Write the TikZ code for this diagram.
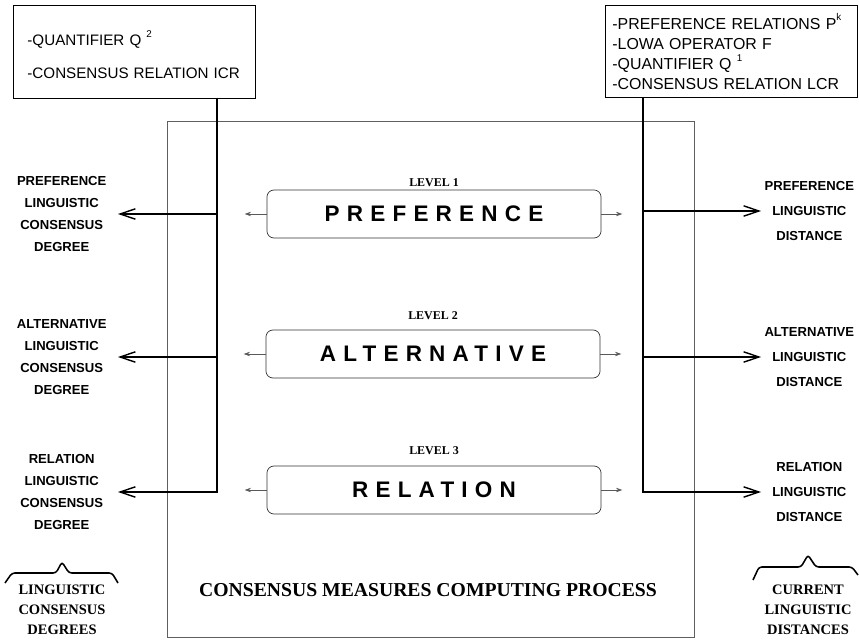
\documentclass[tikz,border=0pt]{standalone}
\usepackage{fontspec}
\setmainfont{Liberation Serif}
\setsansfont{Liberation Sans}
\newfontfamily\spacedsans[LetterSpace=32]{Liberation Sans}
\usepackage{xcolor}
\usetikzlibrary{arrows.meta}
\definecolor{framegray}{RGB}{95,95,95}

\begin{document}
\begin{tikzpicture}[x=0.025cm, y=-0.025cm,
    inbox/.style={draw, line width=0.6pt, anchor=north west, align=left, inner ysep=0pt},
    level/.style={draw=black!80, line width=0.5pt, rounded corners=5pt, minimum width=8.35cm, minimum height=1.2cm,
        font=\spacedsans\bfseries\fontsize{16}{18}\selectfont},
    levtag/.style={font=\bfseries\fontsize{8.5}{10}\selectfont},
    outL/.style={anchor=east, text width=2.8cm, align=center, inner sep=0pt,
        font=\sffamily\bfseries\fontsize{9.3}{15.5}\selectfont},
    outR/.style={anchor=west, text width=2.4cm, align=center, inner sep=0pt,
        font=\sffamily\bfseries\fontsize{9.3}{17.5}\selectfont},
    outarrow/.style={line width=1pt, -{Straight Barb[length=3.8mm,width=2.6mm]}},
    stub/.style={black!65, line width=0.5pt, -{Stealth[length=1.6mm,width=1.1mm]}},
    brace/.style={line width=1.1pt, rounded corners=2pt},
    group/.style={align=center, font=\bfseries\fontsize{10.3}{14.2}\selectfont},
  ]
    \useasboundingbox (0,0) rectangle (859,642);

    % Big frame of the computing process
    \node[draw=framegray, line width=0.5pt, anchor=north west, minimum width=13.175cm, minimum height=12.9cm, inner sep=0pt]
        (process) at (167,121) {};
    \node[font=\bfseries\fontsize{14}{17}\selectfont] (caption) at (428,590) {CONSENSUS MEASURES COMPUTING PROCESS};

    % Input boxes
    \node[inbox, text width=5.35cm, inner xsep=0.35cm, minimum height=2.325cm,
        font=\sffamily\fontsize{10.8}{24}\selectfont] (qbox) at (13,5)
        {\rule{0pt}{2.5ex}-QUANTIFIER Q \raisebox{0.9ex}{\scriptsize 2}\\-CONSENSUS RELATION ICR};
    \node[inbox, text width=5.95cm, inner xsep=0.175cm, minimum height=2.3cm,
        font=\sffamily\fontsize{11.3}{14.2}\selectfont] (pbox) at (605,5)
        {-PREFERENCE RELATIONS P\raisebox{1ex}{\scriptsize k}\\-LOWA OPERATOR F\\-QUANTIFIER Q \raisebox{0.9ex}{\scriptsize 1}\\-CONSENSUS RELATION LCR};
    \coordinate (lbus) at (217,98);
    \coordinate (rbus) at (643,97);

    % The three levels
    \node[level] (pref) at (434,214) {PREFERENCE};
    \node[level] (alt) at (433,354) {ALTERNATIVE};
    \node[level] (rel) at (434,490) {RELATION};
    \node[levtag] (tag1) at (434,183) {LEVEL 1};
    \node[levtag] (tag2) at (433,316) {LEVEL 2};
    \node[levtag] (tag3) at (434,451) {LEVEL 3};
    \foreach \lv in {pref,alt,rel} {
        \draw[stub] (\lv.west) -- ++(-22,0);
        \draw[stub] (\lv.east) -- ++(21,0);
    }

    % Outputs on both sides
    \node[outL] (prefdeg) at (118,214) {PREFERENCE\\LINGUISTIC\\CONSENSUS\\DEGREE};
    \node[outL] (altdeg) at (118,357) {ALTERNATIVE\\LINGUISTIC\\CONSENSUS\\DEGREE};
    \node[outL] (reldeg) at (118,492) {RELATION\\LINGUISTIC\\CONSENSUS\\DEGREE};
    \node[outR] (prefdist) at (761,211) {PREFERENCE\\LINGUISTIC\\DISTANCE};
    \node[outR] (altdist) at (761,357) {ALTERNATIVE\\LINGUISTIC\\DISTANCE};
    \node[outR] (reldist) at (761,492) {RELATION\\LINGUISTIC\\DISTANCE};

    \draw[outarrow] (lbus) |- (reldeg.east);
    \draw[outarrow] (lbus |- prefdeg.east) -- (prefdeg.east);
    \draw[outarrow] (lbus |- altdeg.east) -- (altdeg.east);
    \draw[outarrow] (rbus) |- (reldist.west);
    \draw[outarrow] (rbus |- prefdist.west) -- (prefdist.west);
    \draw[outarrow] (rbus |- altdist.west) -- (altdist.west);

    % Braces and group names
    \draw[brace] (5,583) -- (12,573) -- (56,573) -- (62,562) -- (69,573) -- (112,573) -- (118,583);
    \draw[brace] (753,580) -- (759,567) -- (801,567) -- (808,555) -- (816,567) -- (852,567) -- (858,575);
    \node[group] (lingdeg) at (62,610) {LINGUISTIC\\CONSENSUS\\DEGREES};
    \node[group] (curdist) at (808,610) {CURRENT\\LINGUISTIC\\DISTANCES};
\end{tikzpicture}
\end{document}
